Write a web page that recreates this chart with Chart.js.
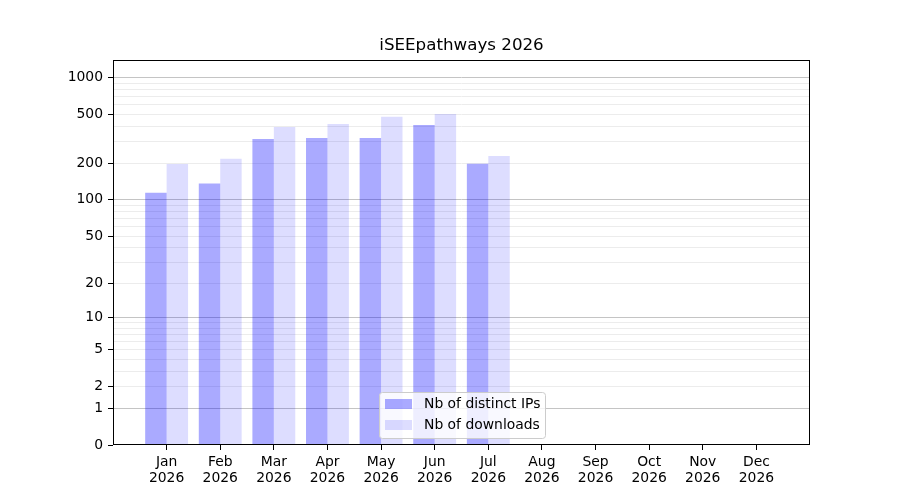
<!DOCTYPE html>
<html>
<head>
<meta charset="utf-8">
<script src="https://cdn.jsdelivr.net/npm/chart.js@4.4.1/dist/chart.umd.min.js"></script>
<style>
  html, body { margin: 0; padding: 0; background: #fff; }
  #wrap { width: 900px; height: 500px; }
</style>
</head>
<body>
<div id="wrap"><canvas id="chart"></canvas></div>
<script>
var months = ["Jan", "Feb", "Mar", "Apr", "May", "Jun", "Jul", "Aug", "Sep", "Oct", "Nov", "Dec"];
var year = "2026";
var distinctIPs = [114, 136, 316, 322, 322, 412, 198, 0, 0, 0, 0, 0];
var downloads = [197, 217, 397, 420, 480, 507, 229, 0, 0, 0, 0, 0];
var yTickLabels = [0, 1, 2, 5, 10, 20, 50, 100, 200, 500, 1000];
var yMax = 1400;
var title = "iSEEpathways " + year;

var FONT = "'DejaVu Sans', sans-serif";

// axis is log10(1 + x) so that 0 can sit at the bottom
function tr(v) { return Math.log10(v + 1); }

// one empty slot on each side, like the reference's margins
var labels = [""].concat(months).concat([""]);
function pad(arr) {
  return [null].concat(arr.map(tr)).concat([null]);
}

// grid positions: 1..9, 10..90, 100..900, 1000
var gridValues = [0];
[1, 10, 100].forEach(function(d) {
  for (var k = 1; k < 10; k++) gridValues.push(k * d);
});
gridValues.push(1000);

var frameAndLegend = {
  id: 'frameAndLegend',
  afterDraw: function(chart) {
    var ctx = chart.ctx;
    var a = chart.chartArea;
    ctx.save();
    ctx.strokeStyle = '#000';
    ctx.lineWidth = 1;
    ctx.strokeRect(Math.round(a.left) + 0.5, Math.round(a.top) + 0.5,
                   Math.round(a.right - a.left) - 1, Math.round(a.bottom - a.top) - 1);

    // title centred over the plot
    ctx.fillStyle = '#000';
    ctx.font = '16.7px ' + FONT;
    ctx.textAlign = 'center';
    ctx.textBaseline = 'middle';
    ctx.fillText(title, (a.left + a.right) / 2, a.top - 14);

    // legend box, lower centre
    var w = 166, h = 46;
    var x = Math.round((a.left + a.right) / 2 - w / 2) + 0.5;
    var y = Math.round(a.bottom) - 7 - h + 0.5;
    var r = 3;
    ctx.beginPath();
    ctx.moveTo(x + r, y);
    ctx.arcTo(x + w, y, x + w, y + h, r);
    ctx.arcTo(x + w, y + h, x, y + h, r);
    ctx.arcTo(x, y + h, x, y, r);
    ctx.arcTo(x, y, x + w, y, r);
    ctx.closePath();
    ctx.fillStyle = 'rgba(255,255,255,0.8)';
    ctx.fill();
    ctx.strokeStyle = '#cccccc';
    ctx.stroke();

    ctx.font = '13.9px ' + FONT;
    ctx.textAlign = 'left';
    ctx.textBaseline = 'middle';
    chart.data.datasets.forEach(function(ds, i) {
      var rowY = y + 11.5 + i * 21;
      ctx.fillStyle = ds.backgroundColor;
      ctx.fillRect(x + 5.5, rowY - 5, 27, 10);
      ctx.fillStyle = '#000';
      ctx.fillText(ds.label, x + 44.5, rowY);
    });
    ctx.restore();
  }
};

new Chart(document.getElementById('chart').getContext('2d'), {
  type: 'bar',
  data: {
    labels: labels,
    datasets: [{
      label: 'Nb of distinct IPs',
      data: pad(distinctIPs),
      backgroundColor: 'rgba(0,0,255,0.333)',
      borderWidth: 0,
      categoryPercentage: 0.8,
      barPercentage: 1.0
    }, {
      label: 'Nb of downloads',
      data: pad(downloads),
      backgroundColor: 'rgba(0,0,255,0.133)',
      borderWidth: 0,
      categoryPercentage: 0.8,
      barPercentage: 1.0
    }]
  },
  options: {
    responsive: true,
    maintainAspectRatio: false,
    animation: false,
    layout: { padding: { left: 0, right: 90, top: 60, bottom: 0 } },
    plugins: {
      legend: { display: false },
      tooltip: { enabled: false },
      title: { display: false }
    },
    scales: {
      x: {
        offset: false,
        grid: {
          offset: false,
          drawOnChartArea: false,
          drawTicks: true,
          tickLength: 5,
          tickColor: function(c) {
            return (c.index === 0 || c.index === labels.length - 1) ? 'rgba(0,0,0,0)' : '#000';
          }
        },
        border: { display: false },
        ticks: {
          color: '#000',
          font: { family: FONT, size: 13.9, lineHeight: 1.1 },
          padding: 5,
          autoSkip: false,
          maxRotation: 0,
          callback: function(value, index) {
            if (index === 0 || index === labels.length - 1) return '';
            return [labels[index], year];
          }
        },
        afterFit: function(s) { s.height = 55; }
      },
      y: {
        min: 0,
        max: tr(yMax),
        afterBuildTicks: function(s) {
          s.ticks = gridValues.map(function(v) {
            return { value: tr(v), v: v };
          });
        },
        grid: {
          tickLength: 5,
          color: function(c) {
            if (!c.tick || c.tick.v === 0) return 'rgba(0,0,0,0)';
            var v = c.tick.v;
            return (v === 1 || v === 10 || v === 100 || v === 1000) ? '#c4c4c4' : '#ececec';
          },
          tickColor: function(c) {
            return (c.tick && yTickLabels.indexOf(c.tick.v) >= 0) ? '#000' : 'rgba(0,0,0,0)';
          }
        },
        border: { display: false },
        ticks: {
          color: '#000',
          font: { family: FONT, size: 13.9 },
          padding: 5,
          autoSkip: false,
          callback: function(value, index, ticks) {
            var v = ticks[index].v;
            return yTickLabels.indexOf(v) >= 0 ? String(v) : '';
          }
        },
        afterFit: function(s) { s.width = 113; }
      }
    }
  },
  plugins: [frameAndLegend]
});
</script>
</body>
</html>
